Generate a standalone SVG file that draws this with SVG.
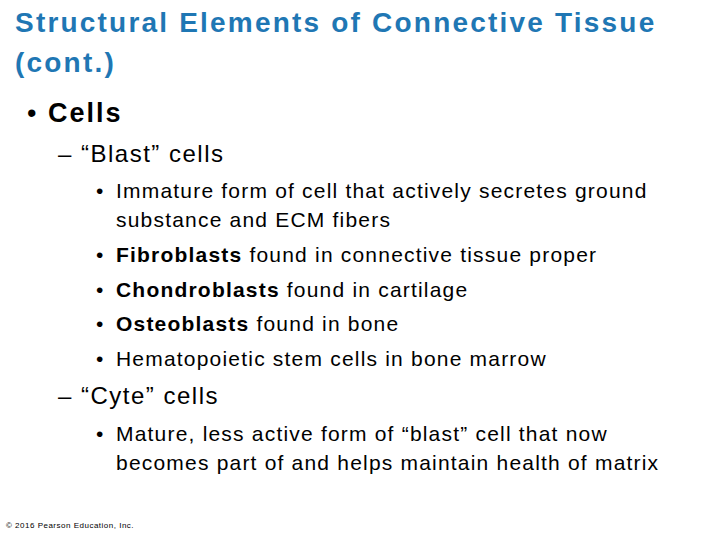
<svg xmlns="http://www.w3.org/2000/svg" width="720" height="540" viewBox="0 0 720 540">
<style>
text{font-family:"Liberation Sans",Arial,sans-serif;fill:#000}
.t{fill:#1f77b4;font-size:28px;font-weight:bold;letter-spacing:2.2px}
.l1{font-size:27px;letter-spacing:2px}
.l2{font-size:24px;letter-spacing:1.5px}
.l3{font-size:21px;letter-spacing:1.2px}
</style>
<rect width="720" height="540" fill="#fff"/>
<g id="title">
<text class="t" x="15" y="32">Structural Elements of Connective Tissue</text>
<text class="t" x="15" y="72">(cont.)</text>
</g>
<g id="body">
<text class="l1" x="27" y="122">• <tspan font-weight="bold">Cells</tspan></text>
<text class="l2" x="58" y="162">– “Blast” cells</text>
<g class="l3">
<text x="96" y="198">•</text><text x="116" y="198">Immature form of cell that actively secretes ground</text>
<text x="116" y="227">substance and ECM fibers</text>
<text x="96" y="262">•</text><text x="116" y="262"><tspan font-weight="bold">Fibroblasts</tspan> found in connective tissue proper</text>
<text x="96" y="297">•</text><text x="116" y="297"><tspan font-weight="bold">Chondroblasts</tspan> found in cartilage</text>
<text x="96" y="331">•</text><text x="116" y="331"><tspan font-weight="bold">Osteoblasts</tspan> found in bone</text>
<text x="96" y="366">•</text><text x="116" y="366">Hematopoietic stem cells in bone marrow</text>
</g>
<text class="l2" x="58" y="404">– “Cyte” cells</text>
<g class="l3">
<text x="96" y="441">•</text><text x="116" y="441">Mature, less active form of “blast” cell that now</text>
<text x="116" y="470">becomes part of and helps maintain health of matrix</text>
</g>
</g>
<text x="6" y="528" font-size="8" letter-spacing="0.5">© 2016 Pearson Education, Inc.</text>
</svg>
